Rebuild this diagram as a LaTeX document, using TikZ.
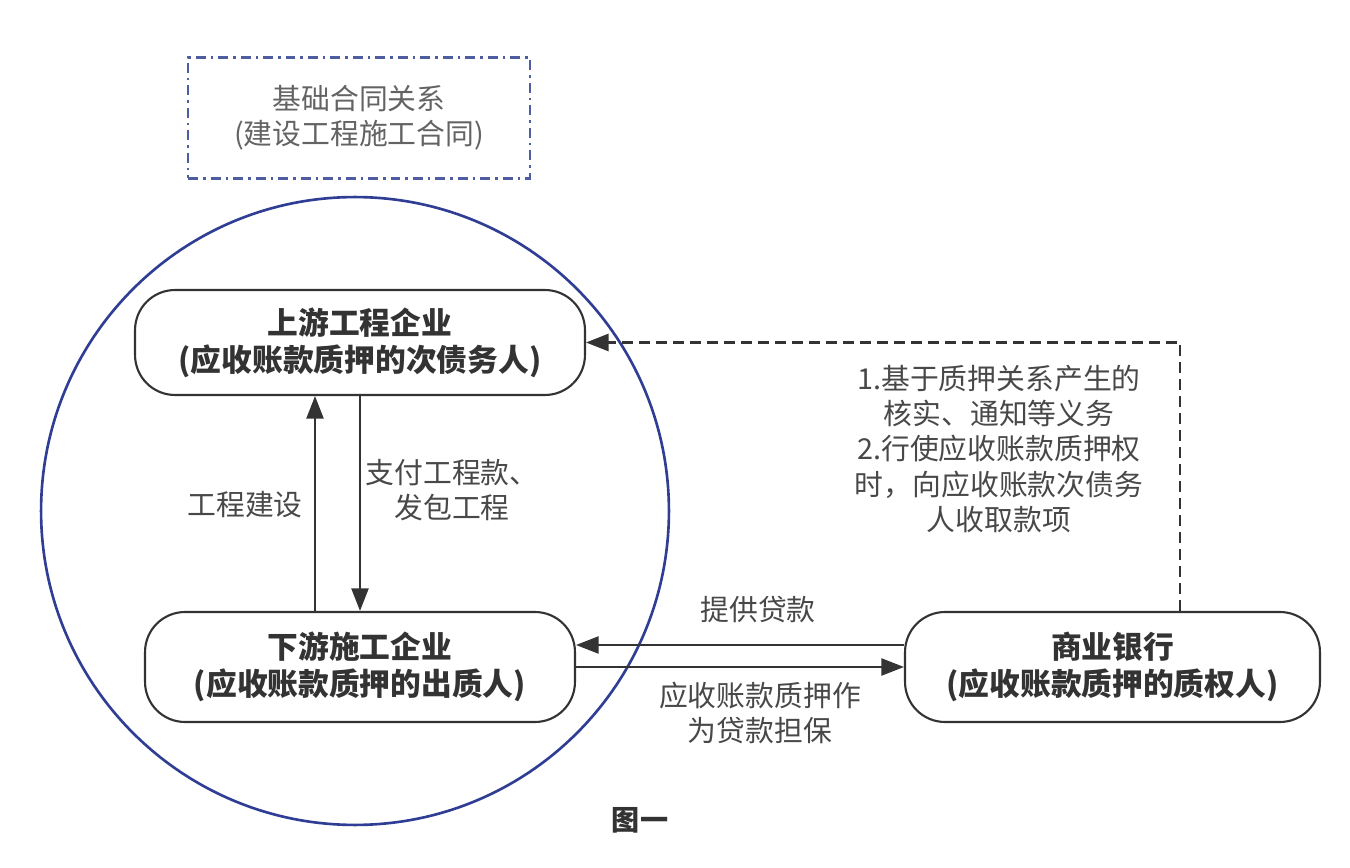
\documentclass[tikz,border=0pt]{standalone}
\usepackage{fontspec}
\setmainfont{Noto Sans CJK SC}
\usetikzlibrary{arrows.meta}
\definecolor{ringblue}{RGB}{47,62,148}
\definecolor{boxblue}{RGB}{78,92,160}
\definecolor{inkgray}{RGB}{51,51,51}
\definecolor{notegray}{RGB}{72,72,72}

\begin{document}
\begin{tikzpicture}[x=0.02cm, y=-0.02cm]
    \tikzstyle{party} = [rectangle, rounded corners=0.8cm, draw=inkgray, line width=1.2pt, text=inkgray, align=center, font=\fontsize{17.5}{21}\selectfont\bfseries]
    \tikzstyle{note} = [text=notegray, align=center, font=\fontsize{16.4}{20}\selectfont]
    \tikzstyle{arr} = [draw=inkgray, line width=1.2pt, -{Triangle[length=0.45cm, width=0.34cm]}]

    \useasboundingbox (0,0) rectangle (1350,868);

    % base contract
    \node[note, draw=boxblue, line width=1.5pt, dash pattern=on 0.2cm off 0.1cm on 0.05cm off 0.1cm,
          minimum width=6.84cm, minimum height=2.42cm, text=notegray!85] (base) at (359,118)
          {基础合同关系\\(建设工程施工合同)};

    \node[draw=ringblue, line width=1.5pt, circle, minimum size=12.56cm] (ring) at (355,511) {};

    \node[party, minimum width=9cm, minimum height=2.1cm] (up) at (360,342.5) {上游工程企业\\(应收账款质押的次债务人)};
    \node[party, minimum width=8.6cm, minimum height=2.2cm] (down) at (360,667) {下游施工企业\\(应收账款质押的出质人)};
    \node[party, minimum width=8.3cm, minimum height=2.2cm] (bank) at (1112.5,667) {商业银行\\(应收账款质押的质权人)};

    \draw[arr] ([xshift=-0.9cm]down.north) -- ([xshift=-0.9cm]up.south);
    \draw[arr] (up.south) -- (down.north);
    \draw[arr] ([yshift=0.44cm]bank.west) -- ([yshift=0.44cm]down.east);
    \draw[arr] (down.east) -- (bank.west);
    \draw[arr, line width=1.5pt, dash pattern=on 0.22cm off 0.12cm] ([xshift=1.35cm]bank.north) |- (up.east);

    \node[note] (build) at (245,505) {工程建设};
    \node[note] (pay) at (452,490) {支付工程款、\\发包工程};
    \node[note] (loan) at (758,610) {提供贷款};
    \node[note] (pledge) at (760,713) {应收账款质押作\\为贷款担保};
    \node[note] (duty) at (999,449) {1.基于质押关系产生的\\核实、通知等义务\\2.行使应收账款质押权\\时，向应收账款次债务\\人收取款项};

    \node[text=inkgray, font=\fontsize{16}{20}\selectfont\bfseries] (caption) at (640,820) {图一};
\end{tikzpicture}
\end{document}
